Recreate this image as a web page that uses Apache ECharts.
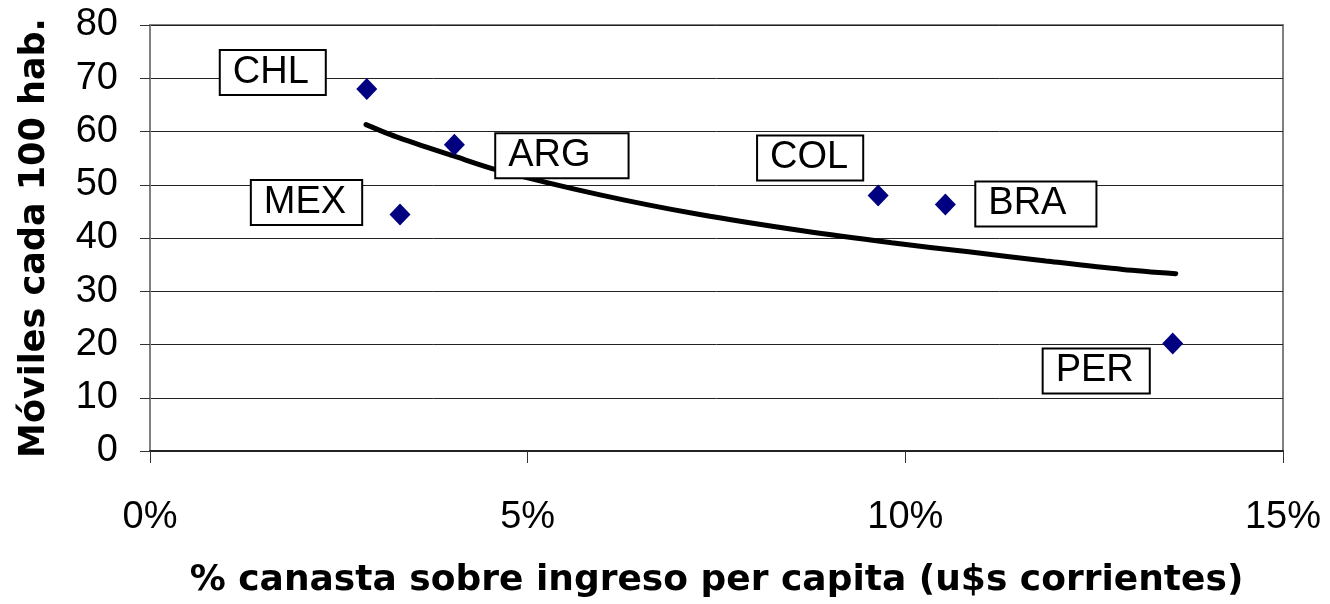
<!DOCTYPE html>
<html>
<head>
<meta charset="utf-8">
<script src="https://cdn.jsdelivr.net/npm/echarts@6/dist/echarts.min.js"></script>
<style>
    html, body { margin: 0; padding: 0; background: #fff; }
    #chart { width: 1330px; height: 604px; }
</style>
</head>
<body>
<div id="chart"></div>
<script>
//--------------------------------
// Data
//--------------------------------
const countries = ['CHL', 'ARG', 'MEX', 'COL', 'BRA', 'PER'];
const canasta = [2.87, 4.03, 3.31, 9.64, 10.53, 13.54];
const moviles = [68.0, 57.5, 44.4, 48.0, 46.3, 20.2];

// trend line
const trendX = [2.86, 3.3, 4.02, 4.59, 5.96, 7.28, 8.66, 9.82, 10.84, 11.86, 12.88, 13.58];
const trendY = [61.3, 58.8, 55.4, 52.8, 48.1, 44.4, 41.3, 39.1, 37.4, 35.7, 34.1, 33.3];

const xTicks = [0, 5, 10, 15];
const yTicks = [0, 10, 20, 30, 40, 50, 60, 70, 80];

//--------------------------------
// Label boxes (offset from point, padding)
//--------------------------------
const labelOffset = [[-94, -16.5], [107.5, 11], [-93.5, -12], [-68, -37.5], [90.5, -0.5], [-76.5, 27.5]];
const labelPadRight = [16, 37, 15, 14, 29, 15];

var myChart = echarts.init(document.getElementById('chart'));

let points = [];
for (let i = 0; i < countries.length; i++) {
    points.push({
        name: countries[i],
        value: [canasta[i], moviles[i]],
        label: {
            offset: labelOffset[i],
            padding: [4, labelPadRight[i], 1, 12]
        }
    });
}

let trend = [];
for (let i = 0; i < trendX.length; i++) {
    trend.push([trendX[i], trendY[i]]);
}

let options = {
    animation: false,
    backgroundColor: '#ffffff',
    grid: {
        left: 150,
        right: 47,
        top: 25,
        bottom: 152,
        show: true,
        borderColor: '#808080',
        borderWidth: 2
    },
    xAxis: {
        type: 'value',
        min: 0,
        max: 15,
        interval: 5,
        name: '% canasta sobre ingreso per capita (u$s corrientes)',
        nameLocation: 'middle',
        nameGap: 112,
        nameTextStyle: {
            fontFamily: 'DejaVu Sans',
            fontWeight: 'bold',
            fontSize: 36,
            color: '#000'
        },
        axisLine: { show: true, onZero: false, lineStyle: { color: '#222', width: 2 } },
        axisTick: { show: true, length: 12, lineStyle: { color: '#333', width: 1 } },
        axisLabel: {
            margin: 48,
            fontFamily: 'Liberation Sans',
            fontSize: 38,
            color: '#000',
            formatter: (v) => xTicks.includes(v) ? v + '%' : ''
        },
        splitLine: { show: false }
    },
    yAxis: {
        type: 'value',
        min: 0,
        max: 80,
        interval: 10,
        name: 'Móviles cada 100 hab.',
        nameLocation: 'middle',
        nameGap: 98,
        nameTextStyle: {
            fontFamily: 'DejaVu Sans',
            fontWeight: 'bold',
            fontSize: 35,
            color: '#000'
        },
        axisLine: { show: true, lineStyle: { color: '#808080', width: 2 } },
        axisTick: { show: true, length: 10, lineStyle: { color: '#333', width: 1 } },
        axisLabel: {
            margin: 32,
            fontFamily: 'Liberation Sans',
            fontSize: 38,
            color: '#000',
            formatter: (v) => yTicks.includes(v) ? String(v) : ''
        },
        splitLine: { show: true, lineStyle: { color: '#222', width: 1 } }
    },
    series: [
        {
            name: 'Tendencia',
            type: 'line',
            data: trend,
            smooth: 0.3,
            symbol: 'none',
            lineStyle: { color: '#000', width: 5, cap: 'round' },
            z: 2
        },
        {
            name: 'Países',
            type: 'scatter',
            data: points,
            symbol: 'diamond',
            symbolSize: [21, 22],
            itemStyle: { color: '#000080', opacity: 1 },
            label: {
                show: true,
                position: 'inside',
                formatter: (p) => p.name,
                fontFamily: 'Liberation Sans',
                fontSize: 38,
                lineHeight: 38,
                color: '#000',
                textBorderWidth: 0,
                textBorderColor: 'transparent',
                backgroundColor: '#ffffff',
                borderColor: '#000',
                borderWidth: 2
            },
            emphasis: { disabled: true },
            z: 3
        }
    ]
};

myChart.setOption(options);
</script>
</body>
</html>
